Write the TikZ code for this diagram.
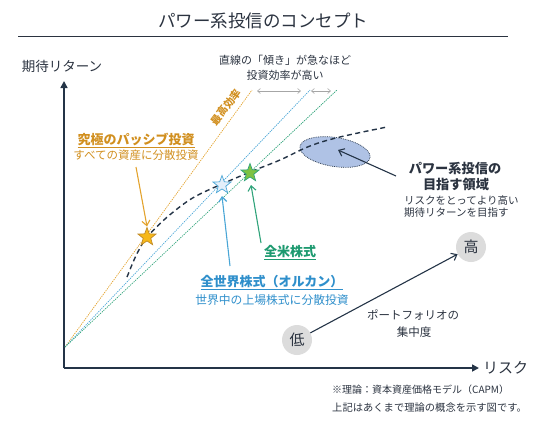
\documentclass[tikz,border=0pt]{standalone}
\usepackage{fontspec}
\setmainfont{Noto Sans CJK JP}
\usetikzlibrary{arrows.meta,shapes.geometric}
\definecolor{navy}{HTML}{243447}
\definecolor{txt}{HTML}{2B3340}
\definecolor{orng}{HTML}{E3A32E}
\definecolor{orngtxt}{HTML}{D18F1F}
\definecolor{bluel}{HTML}{4AA6D6}
\definecolor{bluetxt}{HTML}{2F8FCB}
\definecolor{greenl}{HTML}{2FA37A}
\definecolor{greentxt}{HTML}{1E9A70}
\definecolor{ellfill}{HTML}{AFC2E5}
\definecolor{circfill}{HTML}{DCDCDC}
\definecolor{staro}{HTML}{F6B81A}
\definecolor{starw}{HTML}{E4EFFA}
\definecolor{starg}{HTML}{7DC242}
\tikzset{
  lbl/.style={inner sep=0pt, text=txt},
  eline/.style={line width=0.7pt, dash pattern=on 1.3pt off 1pt},
  starshape/.style={star, star points=5, star point ratio=2.4, minimum size=19pt, inner sep=0pt, line width=0.7pt},
  callout/.style={line width=1.1pt, -{Straight Barb[length=5pt,width=8pt]}},
  gapar/.style={line width=0.6pt, draw=gray!70, {Straight Barb[length=3pt,width=5pt]}-{Straight Barb[length=3pt,width=5pt]}},
  lvl/.style={circle, fill=circfill, minimum size=30pt, inner sep=0pt, font=\fontsize{15}{15}\selectfont, text=txt},
}
\begin{document}
\begin{tikzpicture}[x=1pt,y=-1pt]
\path[use as bounding box] (0,0) rectangle (540,424);
% title
\node[lbl, font=\fontsize{17.5}{18}\selectfont] (title) at (263,21) {パワー系投信のコンセプト};
\coordinate (tl) at (18,36); \coordinate (tr) at (508,36);
\draw[line width=1pt, txt] (tl) -- (tr);
% axes
\coordinate (org) at (64,368);
\coordinate (ytop) at (64,81);
\coordinate (xend) at (479,368);
\draw[navy, line width=1.6pt, -{Triangle[length=7pt,width=7pt]}] (org) -- (ytop);
\draw[navy, line width=1.6pt, -{Triangle[length=7pt,width=7pt]}] (org) -- (xend);
\node[lbl, font=\fontsize{13.5}{14}\selectfont] (ylab) at (62,66) {期待リターン};
\node[lbl, font=\fontsize{15}{15}\selectfont, anchor=west] (xlab) at (483,368) {リスク};
% efficiency lines
\coordinate (o) at (65,347);
\coordinate (ot) at (252,90);
\coordinate (bt) at (310,90);
\coordinate (gt) at (337,90);
\draw[eline, orng] (o) -- (ot);
\draw[eline, bluel] (o) -- (bt);
\draw[eline, greenl] (o) -- (gt);
\node[inner sep=0pt, text=orngtxt, font=\bfseries\fontsize{10.5}{11}\selectfont, rotate=53] (saiko) at (226,107) {最高効率};
% gap arrows
\coordinate (g1a) at (257,91); \coordinate (g1b) at (301,91);
\coordinate (g2a) at (311,91); \coordinate (g2b) at (331,91);
\draw[gapar] (g1a) -- (g1b);
\draw[gapar] (g2a) -- (g2b);
\node[lbl, font=\fontsize{11}{12}\selectfont] (slope1) at (285,60) {直線の「傾き」が急なほど};
\node[lbl, font=\fontsize{11}{12}\selectfont] (slope2) at (285,75) {投資効率が高い};
% frontier
\node[ellipse, fill=ellfill, draw=navy, line width=0.7pt, dash pattern=on 0.8pt off 1pt, minimum width=71pt, minimum height=29pt, rotate=-9] (ell) at (335,152) {};
\draw[navy, line width=1.4pt, dash pattern=on 5pt off 3.5pt] plot[smooth, tension=0.6] coordinates {(127,277) (134,260) (140,248) (147,237) (165,219) (185,203) (200,194) (222,184) (250,172) (280,160) (310,146) (340,137) (387,127)};
% stars
\node[starshape, fill=staro, draw=orng!85!black] (s1) at (147,237) {};
\node[starshape, fill=starw, draw=bluel] (s2) at (222,185) {};
\node[starshape, fill=starg, draw=greenl] (s3) at (250,173) {};
% passive
\node[lbl, text=orngtxt, font=\bfseries\fontsize{13}{14}\selectfont] (pas1) at (136,140) {\underline{究極のパッシブ投資}};
\node[lbl, text=orngtxt, font=\fontsize{11.5}{12}\selectfont] (pas2) at (136,155) {すべての資産に分散投資};
\coordinate (pa) at (136,167);
\draw[callout, orng] (pa) -- (s1.north);
% world
\node[lbl, text=bluetxt, font=\bfseries\fontsize{13}{14}\selectfont] (wld1) at (272,283) {\underline{全世界株式（オルカン）}};
\node[lbl, text=bluetxt, font=\fontsize{11.8}{12}\selectfont] (wld2) at (272,300) {世界中の上場株式に分散投資};
\coordinate (wa) at (230,266);
\draw[callout, bluel] (wa) -- (222,196);
% us
\node[lbl, text=greentxt, font=\bfseries\fontsize{13}{14}\selectfont] (us) at (290,253) {\underline{全米株式}};
\coordinate (ua) at (261,243);
\draw[callout, greenl] (ua) -- (251,185);
% power
\node[lbl, font=\bfseries\fontsize{13.2}{14}\selectfont] (pw1) at (455,168) {パワー系投信の};
\node[lbl, font=\bfseries\fontsize{13.2}{14}\selectfont] (pw2) at (456,184) {目指す領域};
\node[lbl, font=\fontsize{10.5}{11}\selectfont, anchor=west] (pw3) at (404,200) {リスクをとってより高い};
\node[lbl, font=\fontsize{10.5}{11}\selectfont, anchor=west] (pw4) at (404,213) {期待リターンを目指す};
\coordinate (pwa) at (396,176);
\draw[callout, navy] (pwa) -- (338,150);
% concentration
\node[lvl] (low) at (297,340) {低};
\node[lvl] (high) at (471,247) {高};
\draw[callout, navy] (low) -- (high);
\node[lbl, font=\fontsize{11.5}{12}\selectfont] (conc1) at (413,315) {ポートフォリオの};
\node[lbl, font=\fontsize{11.5}{12}\selectfont] (conc2) at (414,332) {集中度};
% notes
\node[lbl, font=\fontsize{10}{11}\selectfont, anchor=west] (n1) at (332,390) {※理論：資本資産価格モデル（CAPM）};
\node[lbl, font=\fontsize{10.3}{11}\selectfont, anchor=west] (n2) at (332,408) {上記はあくまで理論の概念を示す図です。};
\end{tikzpicture}
\end{document}
